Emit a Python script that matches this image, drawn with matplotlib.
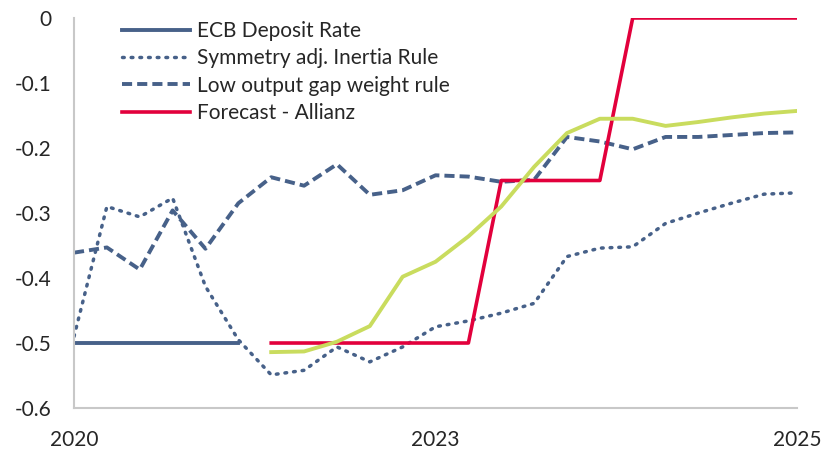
import numpy as np
import matplotlib.pyplot as plt

# quarterly points, 2020 .. 2025
periods = list(range(23))
tick_pos = [0, 11, 22]
tick_labels = ['2020', '2023', '2025']

ecb_rate = [-0.5, -0.5, -0.5, -0.5, -0.5, -0.5] + [np.nan] * 17
inertia_rule = [-0.49, -0.29, -0.306, -0.277, -0.413, -0.495, -0.549, -0.542, -0.506, -0.529,
                -0.506, -0.475, -0.466, -0.454, -0.439, -0.367, -0.354, -0.352, -0.316, -0.300,
                -0.285, -0.271, -0.269]
low_gap_rule = [-0.361, -0.353, -0.387, -0.296, -0.355, -0.285, -0.245, -0.258, -0.225, -0.272,
                -0.265, -0.242, -0.244, -0.252, -0.249, -0.183, -0.190, -0.202, -0.183, -0.183,
                -0.180, -0.177, -0.176]
allianz = [np.nan] * 6 + [-0.5, -0.5, -0.5, -0.5, -0.5, -0.5, -0.5, -0.25, -0.25, -0.25, -0.25,
                          0, 0, 0, 0, 0, 0]
market = [np.nan] * 6 + [-0.514, -0.513, -0.498, -0.474, -0.398, -0.375, -0.336, -0.290, -0.229,
                         -0.177, -0.155, -0.155, -0.166, -0.160, -0.153, -0.147, -0.143]

blue = '#476189'
red = '#e2003c'
green = '#c9dc5e'

plt.rcParams['font.family'] = ['Lato', 'DejaVu Sans']

fig = plt.figure(figsize=(8.28, 4.53), dpi=100)
ax = fig.add_axes([0.0894, 0.0993, 0.8732, 0.861])

ax.plot(periods, ecb_rate, color=blue, lw=2.8, label='ECB Deposit Rate')
ax.plot(periods, inertia_rule, color=blue, lw=2.5, ls=(0, (0.5, 2.0)), dash_capstyle='round',
        label='Symmetry adj. Inertia Rule')
ax.plot(periods, low_gap_rule, color=blue, lw=2.8, ls=(0, (2.6, 1.3)), label='Low output gap weight rule')
ax.plot(periods, allianz, color=red, lw=2.6, label='Forecast - Allianz')
ax.plot(periods, market, color=green, lw=2.8)

ax.set_xlim(0, 22)
ax.set_ylim(-0.6, 0)
ax.set_xticks(tick_pos)
ax.set_xticklabels(tick_labels)
ax.set_yticks([0, -0.1, -0.2, -0.3, -0.4, -0.5, -0.6])
ax.set_yticklabels(['0', '-0.1', '-0.2', '-0.3', '-0.4', '-0.5', '-0.6'])
ax.tick_params(axis='both', length=0, labelsize=15, colors='#262626')
ax.tick_params(axis='x', pad=16)
ax.tick_params(axis='y', pad=16)

for side in ['top', 'right']:
    ax.spines[side].set_visible(False)
for side in ['left', 'bottom']:
    ax.spines[side].set_color('#c8c8c8')
    ax.spines[side].set_linewidth(1.5)

leg = ax.legend(loc='upper left', bbox_to_anchor=(0.04, 1.04), frameon=False, fontsize=15,
                handlelength=3.3, labelspacing=0.35, handletextpad=0.3)
for t in leg.get_texts():
    t.set_color('#262626')

fig.savefig('out.png', dpi=100)
